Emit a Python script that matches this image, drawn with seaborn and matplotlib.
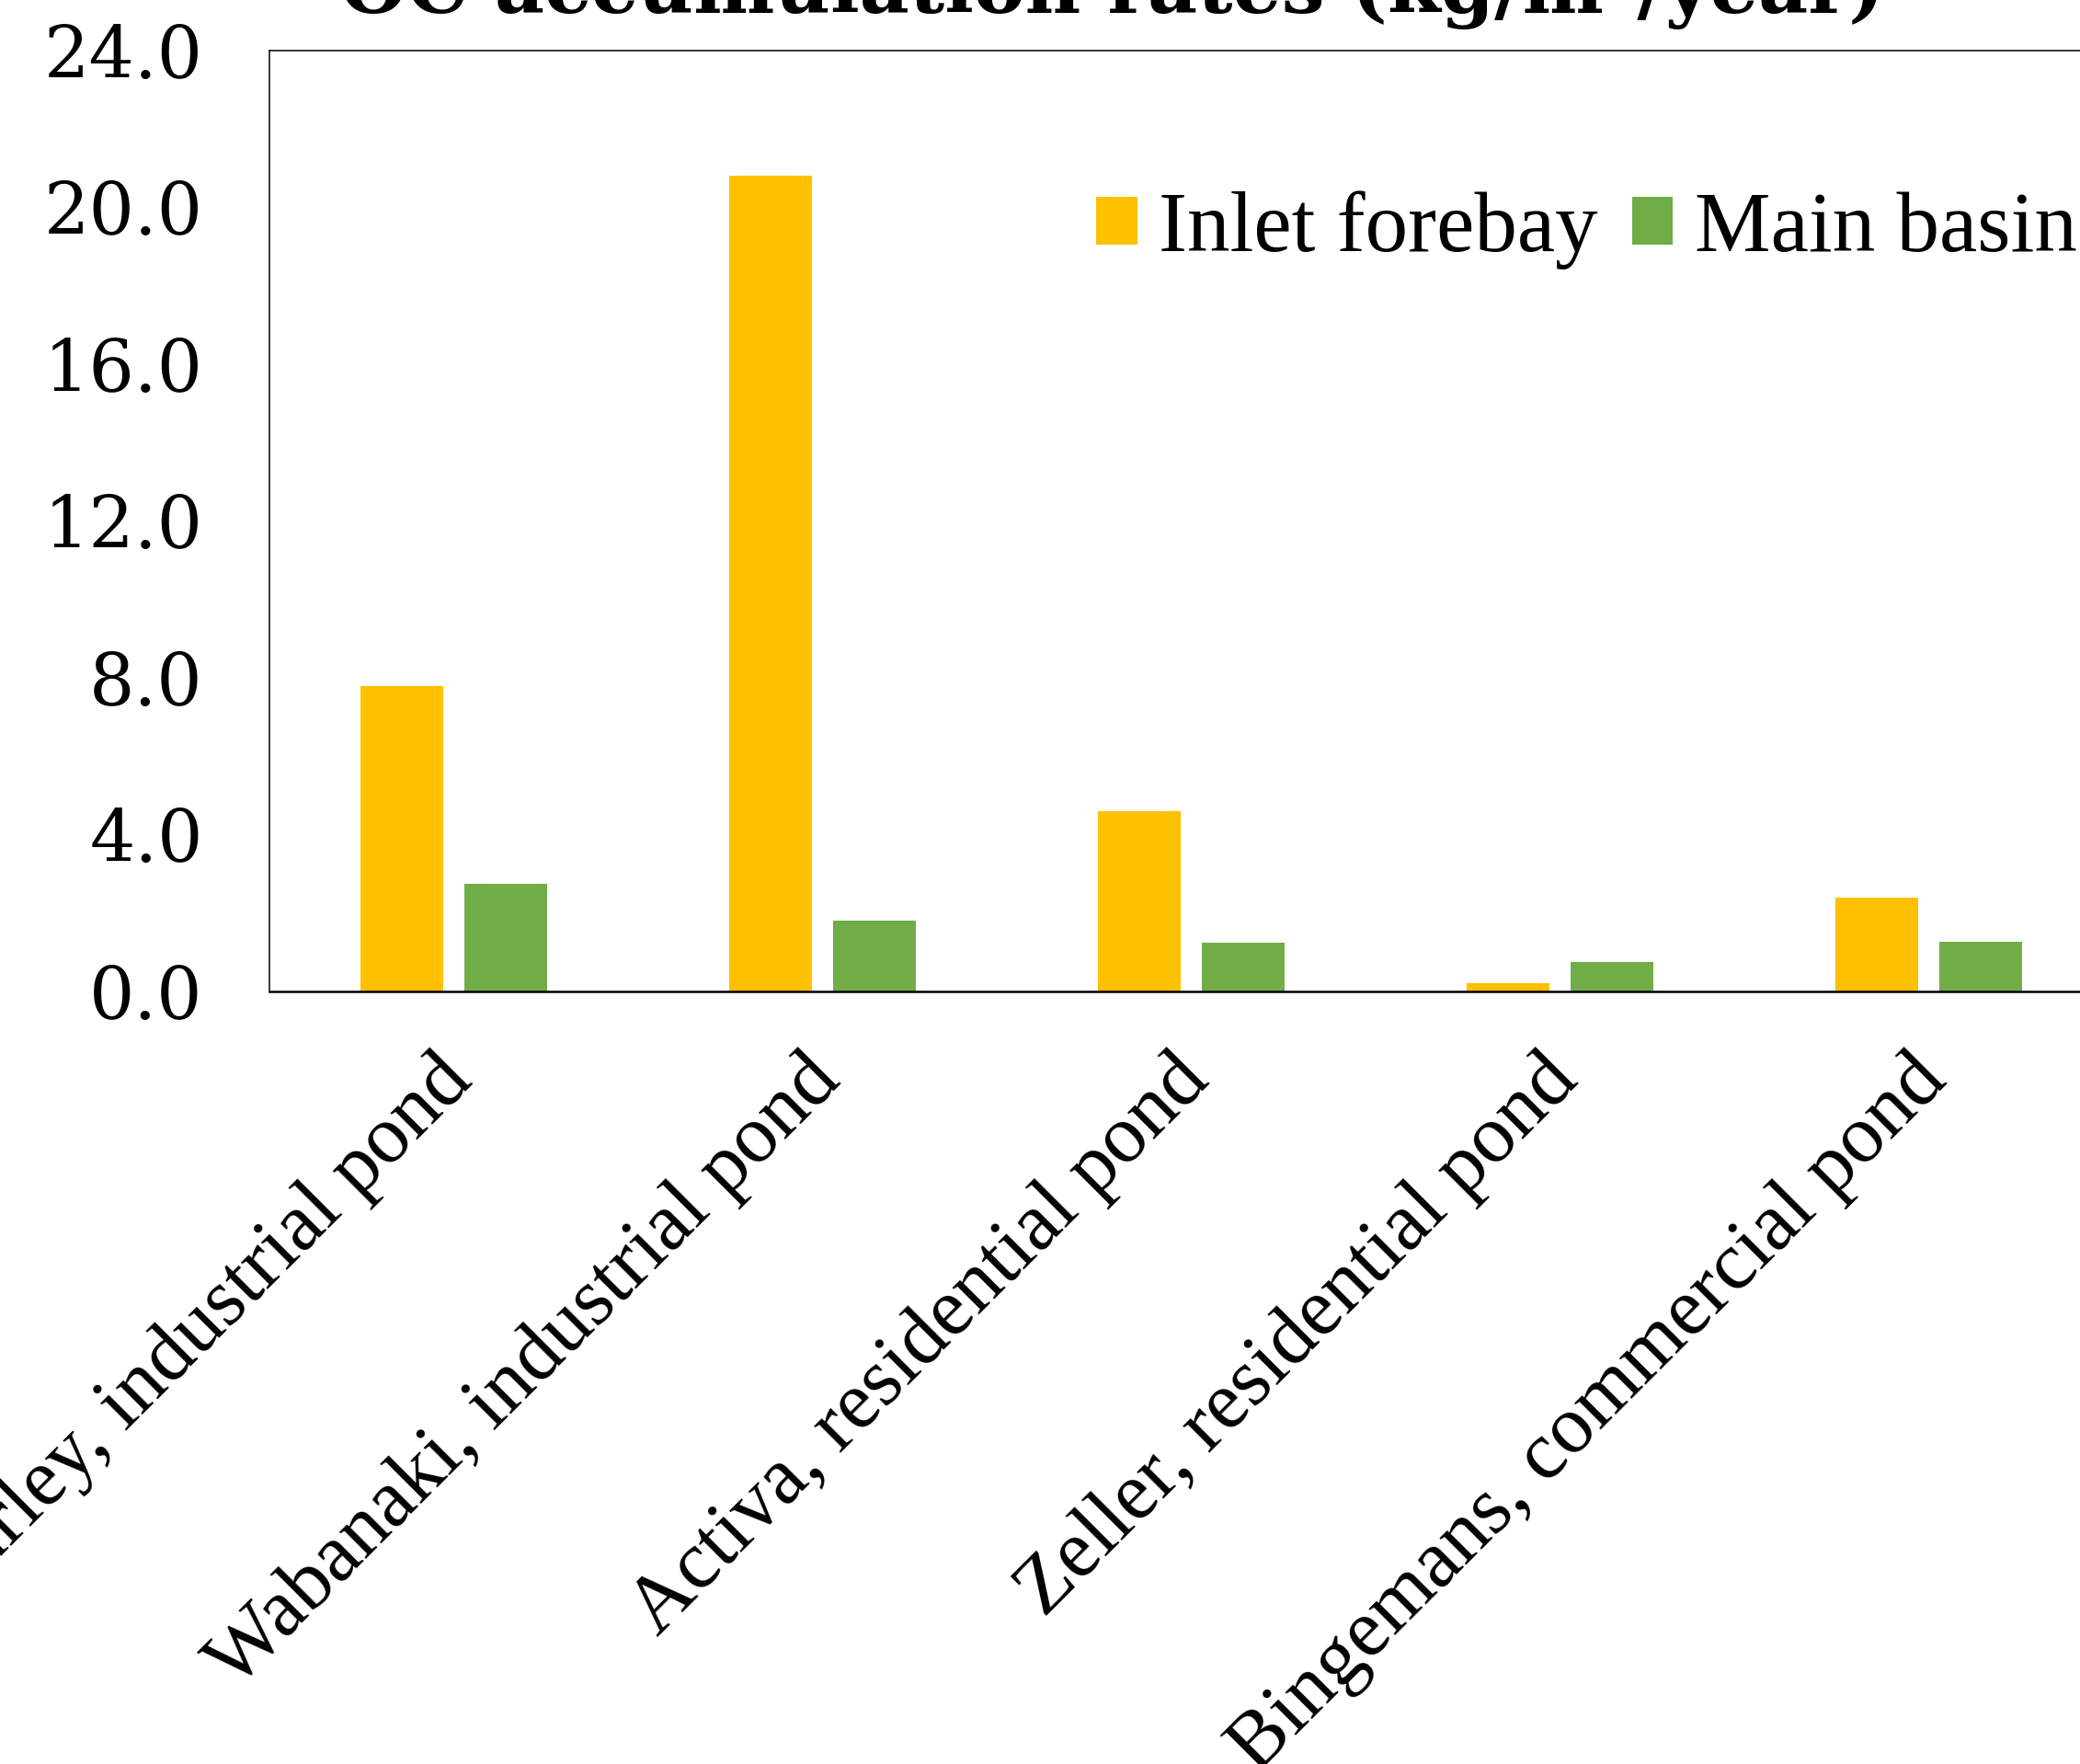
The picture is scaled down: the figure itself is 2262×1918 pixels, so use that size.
import matplotlib
matplotlib.use("Agg")
import matplotlib.pyplot as plt
import matplotlib.transforms as mtransforms
import seaborn as sns
import pandas as pd
from matplotlib.ticker import FormatStrFormatter

# ---- data ----
ponds = ["Hurley, industrial pond", "Wabanaki, industrial pond",
         "Activa, residential pond", "Zeller, residential pond",
         "Bingemans, commercial pond"]
inlet_forebay = [7.8, 20.8, 4.6, 0.2, 2.4]
main_basin = [2.75, 1.8, 1.25, 0.75, 1.27]
series_names = ["Inlet forebay", "Main basin"]
y_ticks = [0, 4, 8, 12, 16, 20, 24]
title_text = "OC accumulation rates (kg/m²/year)"

df = pd.DataFrame({
    "pond": ponds * 2,
    "value": inlet_forebay + main_basin,
    "series": [series_names[0]] * len(ponds) + [series_names[1]] * len(ponds),
})

sns.set_style("white")
plt.rcParams["font.family"] = ["Liberation Serif", "DejaVu Serif"]
plt.rcParams["text.color"] = "black"
plt.rcParams["xtick.color"] = "black"
plt.rcParams["ytick.color"] = "black"

W, H = 2262, 1918
fig = plt.figure(figsize=(W / 100, H / 100), dpi=100)
ax = fig.add_axes([293 / W, 1 - 1078 / H, (2298 - 293) / W, (1078 - 55) / H])

palette = {"Inlet forebay": "#FFC000", "Main basin": "#70AD47"}
sns.barplot(data=df, x="pond", y="value", hue="series", order=ponds,
            hue_order=series_names, palette=palette, saturation=1,
            width=0.562, gap=0.203, linewidth=0, ax=ax)

ax.set_xlim(-0.5, 4.5)
ax.set_ylim(0, 24)
ax.set_yticks(y_ticks)
ax.yaxis.set_major_formatter(FormatStrFormatter("%.1f"))
ax.set_xlabel("")
ax.set_ylabel("")

for lab in ax.get_yticklabels():
    lab.set_fontfamily(["DejaVu Serif"])
    lab.set_fontsize(56)
    lab.set_color("black")
ax.tick_params(axis="y", length=0, pad=52)
ax.tick_params(axis="x", length=0, pad=40)
ax.set_xticks(range(len(ponds)))
ax.set_xticklabels(ponds, rotation=45, ha="right", va="top",
                   rotation_mode="anchor", fontsize=64,
                   fontfamily="Liberation Serif", color="black")
shift = mtransforms.ScaledTranslation(-22 / 100, 0, fig.dpi_scale_trans)
for lab in ax.get_xticklabels():
    lab.set_transform(lab.get_transform() + shift)

for s in ["left", "top", "right"]:
    ax.spines[s].set_color("black")
    ax.spines[s].set_linewidth(1.1)
ax.spines["bottom"].set_color("black")
ax.spines["bottom"].set_linewidth(1.8)

leg = ax.legend(loc="center left", bbox_to_anchor=(1192 / W, 1 - 250 / H),
                bbox_transform=fig.transFigure, ncol=2, frameon=False,
                fontsize=67, handlelength=0.48, handleheight=0.48,
                handletextpad=0.25, columnspacing=0.4, borderpad=0,
                borderaxespad=0)
for t in leg.get_texts():
    t.set_fontfamily("Liberation Serif")
    t.set_color("black")

fig.text(0.535, 1 - 14 / H, title_text, ha="center", va="baseline",
         fontsize=60, fontweight="bold", fontfamily="DejaVu Serif",
         color="black")

fig.savefig("out.png", dpi=100)
